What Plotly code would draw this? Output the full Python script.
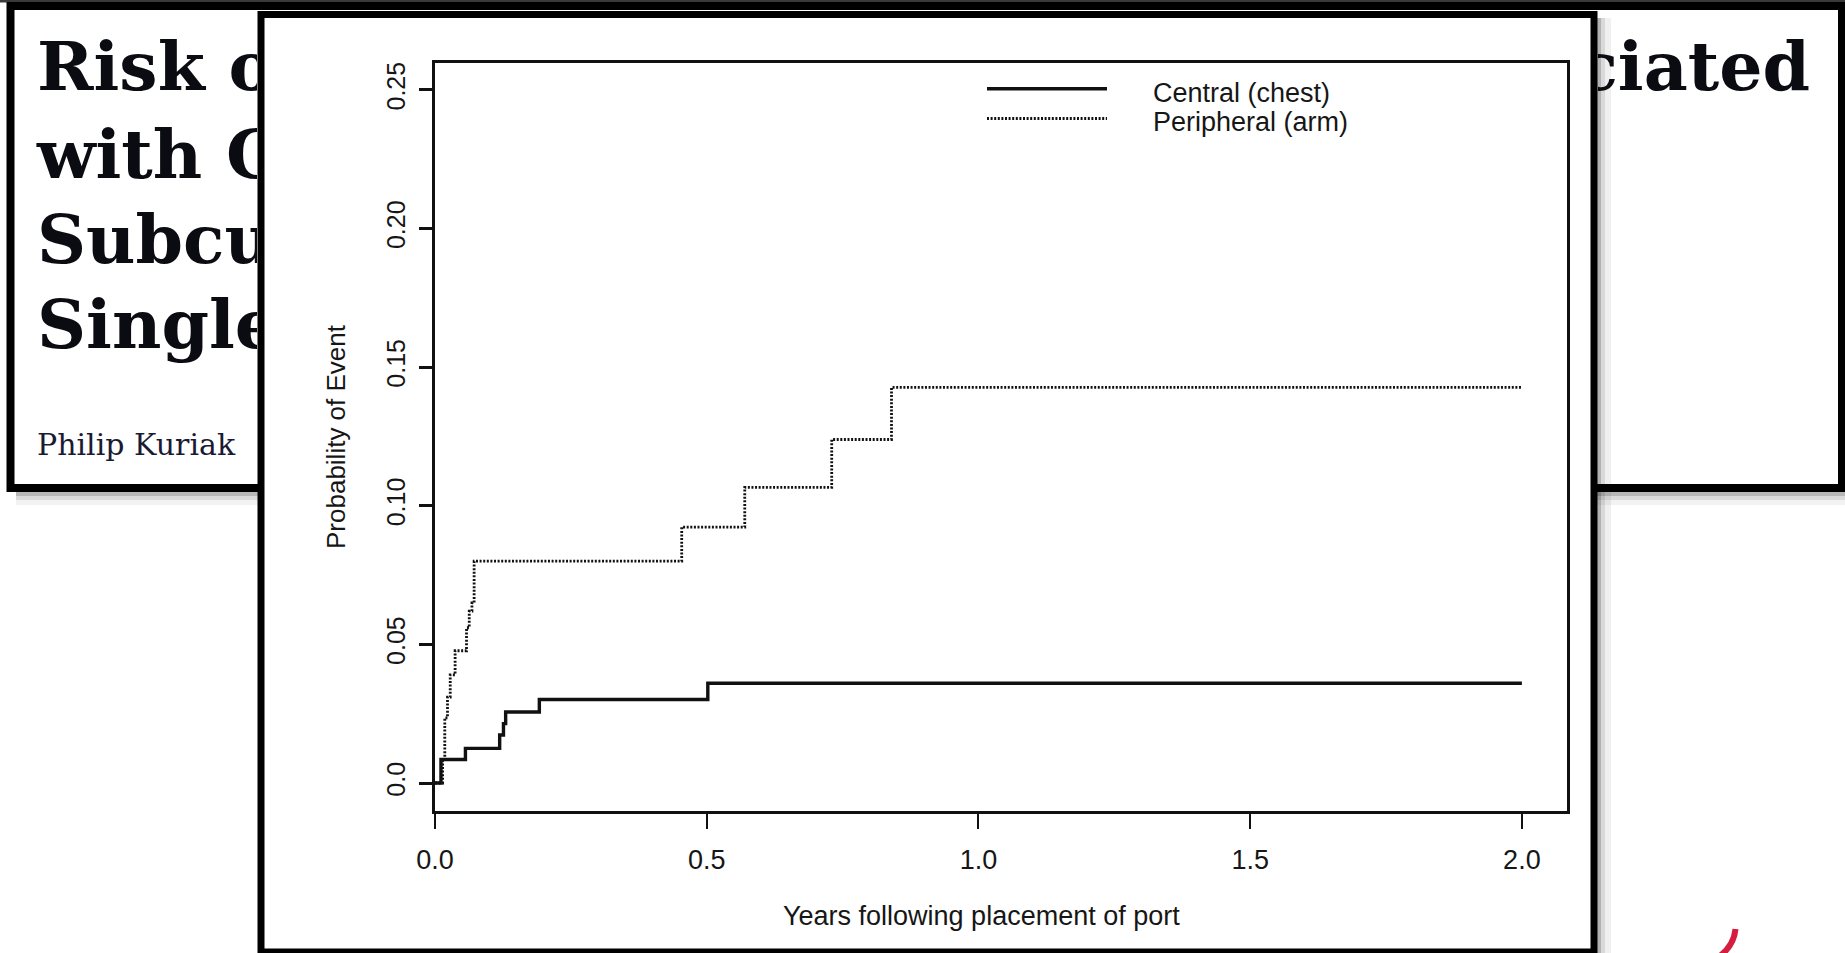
import plotly.graph_objects as go

W, H = 1845, 953

# ---------------- data ----------------
central_years = [0.0, 0.011, 0.056, 0.119, 0.126, 0.130, 0.192, 0.502, 2.0]
central_prob = [0.0, 0.0085, 0.0125, 0.0173, 0.0214, 0.0256, 0.0301, 0.0360, 0.0360]

peripheral_years = [0.0, 0.014, 0.018, 0.023, 0.028, 0.037, 0.058, 0.063, 0.068, 0.072,
                    0.454, 0.570, 0.730, 0.840, 2.0]
peripheral_prob = [0.0, 0.008, 0.0235, 0.031, 0.039, 0.0477, 0.056, 0.062, 0.065, 0.080,
                   0.0923, 0.1066, 0.1239, 0.1427, 0.1427]

series_names = ["Central (chest)", "Peripheral (arm)"]

x_tick_values = [0.0, 0.5, 1.0, 1.5, 2.0]
x_tick_labels = ["0.0", "0.5", "1.0", "1.5", "2.0"]
y_tick_values = [0.0, 0.05, 0.10, 0.15, 0.20, 0.25]
y_tick_labels = ["0.0", "0.05", "0.10", "0.15", "0.20", "0.25"]

x_title = "Years following placement of port"
y_title = "Probability of Event"

# visible fragments of the background paper title (the rest is hidden by the chart panel)
title_left_fragments = ["Risk of", "with Ch", "Subcut", "Single-"]
title_right_fragment = ["ciated"]
author_fragment = ["Philip Kuriak"]


def px(x):
    return x / W


def py(y):
    return 1 - y / H


SANS = "Liberation Sans, Arial, Helvetica, sans-serif"
INK = "#161616"

fig = go.Figure()

# ---------------- curves ----------------
fig.add_trace(go.Scatter(
    x=central_years, y=central_prob, mode="lines", name=series_names[0],
    line=dict(shape="hv", color="#111111", width=3.4), showlegend=False,
    xaxis="x", yaxis="y"))
fig.add_trace(go.Scatter(
    x=peripheral_years, y=peripheral_prob, mode="lines", name=series_names[1],
    line=dict(shape="hv", color="#111111", width=2.8, dash="2px,1.6px"), showlegend=False,
    xaxis="x", yaxis="y"))

# ---------------- background title text (clipped by hidden sub-axes) ----------------
title_base_y = [96.7, 185, 270, 355]
fs_title = 68
fig.add_trace(go.Scatter(
    x=[37] * len(title_left_fragments), y=[b - 0.35 * fs_title for b in title_base_y],
    text=title_left_fragments, mode="text", textposition="middle right",
    textfont=dict(family="DejaVu Serif, serif", size=fs_title, color="#0b0b12", weight="bold"),
    xaxis="x2", yaxis="y2", cliponaxis=True, hoverinfo="skip", showlegend=False))
fs_auth = 30
fig.add_trace(go.Scatter(
    x=[37], y=[458 - 0.35 * fs_auth], text=author_fragment, mode="text",
    textposition="middle right",
    textfont=dict(family="DejaVu Serif, serif", size=fs_auth, color="#1a1a33"),
    xaxis="x2", yaxis="y2", cliponaxis=True, hoverinfo="skip", showlegend=False))
fig.add_trace(go.Scatter(
    x=[1810], y=[96.7 - 0.35 * fs_title], text=title_right_fragment, mode="text",
    textposition="middle left",
    textfont=dict(family="DejaVu Serif, serif", size=fs_title, color="#0b0b12", weight="bold"),
    xaxis="x3", yaxis="y3", cliponaxis=True, hoverinfo="skip", showlegend=False))

# ---------------- shapes: slide frames ----------------
shapes = []
shapes.append(dict(type="rect", xref="paper", yref="paper", x0=0, x1=1, y0=py(2.5), y1=1,
                   line=dict(width=0), fillcolor="#3a3a3a", layer="below"))
for (a, b, op) in [(492, 496, 0.28), (496, 500, 0.14), (500, 505, 0.05)]:
    shapes.append(dict(type="rect", xref="paper", yref="paper", x0=px(16), x1=1,
                       y0=py(b), y1=py(a), line=dict(width=0),
                       fillcolor=f"rgba(0,0,0,{op})", layer="below"))
shapes.append(dict(type="rect", xref="paper", yref="paper", x0=px(10.5), x1=px(1842),
                   y0=py(488), y1=py(6), line=dict(color="black", width=8),
                   fillcolor="white", layer="below"))
for (a, b, op) in [(1597, 1601, 0.30), (1601, 1605, 0.15), (1605, 1611, 0.06)]:
    shapes.append(dict(type="rect", xref="paper", yref="paper", x0=px(a), x1=px(b),
                       y0=0, y1=py(18), line=dict(width=0),
                       fillcolor=f"rgba(0,0,0,{op})", layer="below"))
shapes.append(dict(type="rect", xref="paper", yref="paper", x0=px(261), x1=px(1594),
                   y0=py(952), y1=py(14.5), line=dict(color="black", width=7),
                   fillcolor="white", layer="below"))
shapes.append(dict(type="path", xref="paper", yref="paper",
                   path=f"M {px(1735.5)} {py(929)} Q {px(1734)} {py(945)} {px(1720)} {py(956)}",
                   line=dict(color="#d41d3f", width=6), layer="below"))

# legend samples
shapes.append(dict(type="line", xref="paper", yref="paper", x0=px(987), x1=px(1107),
                   y0=py(88.7), y1=py(88.7), line=dict(color="#111111", width=3.4), layer="above"))
shapes.append(dict(type="line", xref="paper", yref="paper", x0=px(987), x1=px(1107),
                   y0=py(118.5), y1=py(118.5),
                   line=dict(color="#111111", width=2.8, dash="2px,1.6px"), layer="above"))

annotations = [
    dict(text=series_names[0], xref="paper", yref="paper", x=px(1151), y=py(93),
         xanchor="left", yanchor="middle", showarrow=False,
         font=dict(family=SANS, size=27, color=INK)),
    dict(text=series_names[1], xref="paper", yref="paper", x=px(1151), y=py(121.5),
         xanchor="left", yanchor="middle", showarrow=False,
         font=dict(family=SANS, size=27, color=INK)),
    dict(text=x_title, xref="paper", yref="paper", x=px(981), y=py(916),
         xanchor="center", yanchor="middle", showarrow=False,
         font=dict(family=SANS, size=27, color=INK)),
    dict(text=y_title, xref="paper", yref="paper", x=px(336), y=py(437),
         xanchor="center", yanchor="middle", showarrow=False, textangle=-90,
         font=dict(family=SANS, size=26, color=INK)),
]

hidden = dict(visible=False, fixedrange=True, automargin=False, showgrid=False, zeroline=False)

fig.update_layout(
    template="none",
    width=W, height=H, autosize=False,
    margin=dict(l=0, r=0, t=0, b=0, pad=0),
    paper_bgcolor="white", plot_bgcolor="rgba(0,0,0,0)",
    showlegend=False,
    shapes=shapes, annotations=annotations,
    xaxis=dict(domain=[px(435), px(1567)], range=[0, 2.083], anchor="y", automargin=False,
               tickvals=x_tick_values, ticktext=x_tick_labels,
               ticks="outside", ticklen=15, tickwidth=2, tickcolor="#111",
               showline=True, linewidth=3, linecolor="#111", mirror=True,
               showgrid=False, zeroline=False, ticklabelstandoff=8,
               tickfont=dict(family=SANS, size=27, color=INK), fixedrange=True),
    yaxis=dict(domain=[py(811), py(63)], range=[-0.0101, 0.2597], anchor="x", automargin=False,
               tickvals=y_tick_values, ticktext=y_tick_labels, tickangle=-90,
               ticks="outside", ticklen=13, tickwidth=3, tickcolor="#111",
               showline=True, linewidth=3, linecolor="#111", mirror=True,
               showgrid=False, zeroline=False, ticklabelstandoff=4,
               tickfont=dict(family=SANS, size=25, color=INK), fixedrange=True),
    xaxis2=dict(domain=[px(16), px(257)], range=[16, 257], anchor="y2", **hidden),
    yaxis2=dict(domain=[0, 1], range=[H, 0], anchor="x2", **hidden),
    xaxis3=dict(domain=[px(1598), px(1838)], range=[1598, 1838], anchor="y3", **hidden),
    yaxis3=dict(domain=[0, 1], range=[H, 0], anchor="x3", **hidden),
)

fig.write_html("out.html", include_plotlyjs=True,
               config={"displayModeBar": False},
               post_script="document.body.style.margin='0';document.body.style.overflow='hidden';")
